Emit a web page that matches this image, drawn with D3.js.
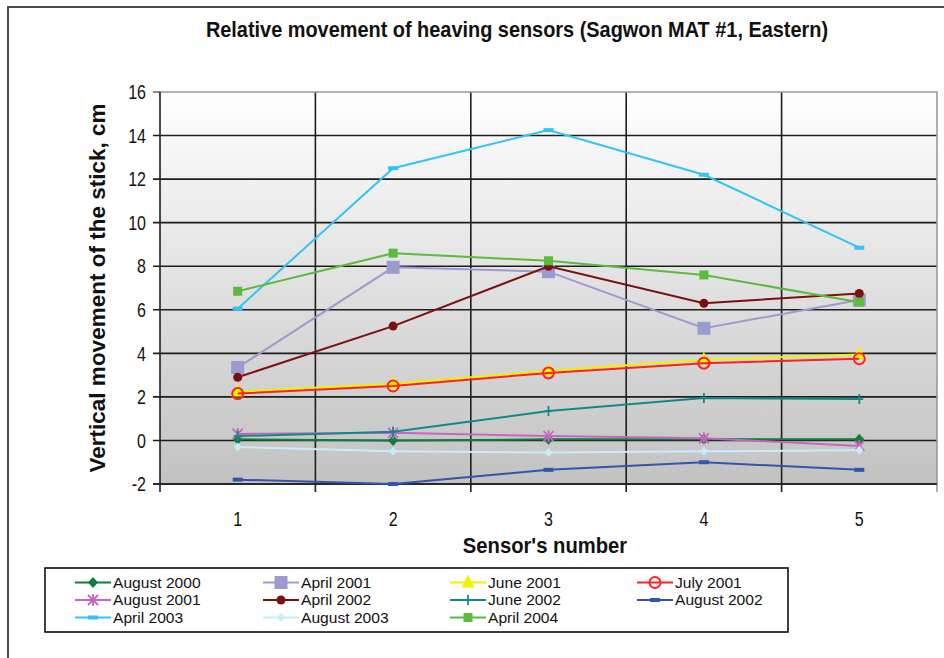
<!DOCTYPE html>
<html><head><meta charset="utf-8">
<script src="https://cdn.jsdelivr.net/npm/d3@7"></script>
<style>html,body{margin:0;padding:0;background:#fff;} svg{display:block;font-family:"Liberation Sans",Arial,sans-serif;}</style>
</head><body>
<svg id="chart" width="944" height="658"></svg>
<script>
const categories = [1, 2, 3, 4, 5];
const yTicks = [-2, 0, 2, 4, 6, 8, 10, 12, 14, 16];
const seriesNames = ["August 2000", "April 2001", "June 2001", "July 2001", "August 2001", "April 2002", "June 2002", "August 2002", "April 2003", "August 2003", "April 2004"];
const aug2000 = [0.05, 0.0, 0.05, 0.05, 0.05];
const apr2001 = [3.35, 7.95, 7.75, 5.15, 6.45];
const jun2001 = [2.25, 2.6, 3.2, 3.7, 3.95];
const jul2001 = [2.15, 2.5, 3.1, 3.55, 3.75];
const aug2001 = [0.3, 0.35, 0.2, 0.1, -0.25];
const apr2002 = [2.9, 5.25, 8.0, 6.3, 6.75];
const jun2002 = [0.2, 0.4, 1.35, 1.95, 1.9];
const aug2002 = [-1.8, -2.0, -1.35, -1.0, -1.35];
const apr2003 = [6.05, 12.5, 14.25, 12.2, 8.85];
const aug2003 = [-0.3, -0.5, -0.55, -0.5, -0.45];
const apr2004 = [6.85, 8.6, 8.25, 7.6, 6.35];
const seriesValues = [aug2000, apr2001, jun2001, jul2001, aug2001, apr2002, jun2002, aug2002, apr2003, aug2003, apr2004];
const colors = ["#0e7d3e", "#9b9bd0", "#f2f200", "#ff2020", "#c865c0", "#7a1010", "#108a88", "#3355aa", "#33c4f4", "#c8ecfa", "#5cbb3c"];
const markers = ["diamond", "bigsquare", "triangle", "ocircle", "asterisk", "circle", "plus", "dash", "dash", "diamondS", "square"];

const svg = d3.select("#chart");
const L = 160, R = 937, T = 92, B = 484;
const SX = 0.8;

function txt(parent, x, y, str, size, opts = {}) {
  const t = parent.append("text")
    .attr("transform", `translate(${x},${y})${opts.rotate ? " rotate(" + opts.rotate + ")" : ""} scale(${opts.sx ?? SX},1)`)
    .attr("text-anchor", opts.anchor || "middle")
    .attr("font-size", size)
    .attr("font-weight", opts.bold ? "bold" : "normal")
    .attr("fill", "#111")
    .text(str);
  if (opts.dy) t.attr("dy", opts.dy);
  return t;
}

// outer frame
svg.append("rect").attr("x", 8).attr("y", 7).attr("width", 1000).attr("height", 1000)
  .attr("fill", "#fff").attr("stroke", "#4a4a4a").attr("stroke-width", 2);

// gradient
const defs = svg.append("defs");
const grad = defs.append("linearGradient").attr("id", "bg").attr("x1", 0).attr("y1", 0).attr("x2", 0).attr("y2", 1);
grad.append("stop").attr("offset", 0).attr("stop-color", "#ffffff");
grad.append("stop").attr("offset", 1).attr("stop-color", "#c2c2c2");

const x = d3.scaleBand().domain(categories).range([L, R]).paddingInner(0).paddingOuter(0);
const y = d3.scaleLinear().domain([-2, 16]).range([B, T]);

svg.append("rect").attr("x", L).attr("y", T).attr("width", R - L).attr("height", B - T).attr("fill", "url(#bg)");

// horizontal gridlines
svg.append("g").selectAll("line").data(yTicks.filter(d => d < 16)).join("line")
  .attr("x1", L - 7).attr("x2", R).attr("y1", d => y(d)).attr("y2", d => y(d))
  .attr("stroke", "#1e1e1e").attr("stroke-width", 1.6);
// vertical gridlines at band boundaries
const bounds = categories.map(c => x(c)).concat([R]);
svg.append("g").selectAll("line").data(bounds.slice(1, -1)).join("line")
  .attr("x1", d => d).attr("x2", d => d).attr("y1", T).attr("y2", B + 8)
  .attr("stroke", "#1e1e1e").attr("stroke-width", 1.6);
// plot border top/right (gray)
svg.append("path").attr("d", `M${L},${T}H${R}V${B + 8}`).attr("fill", "none").attr("stroke", "#9a9a9a").attr("stroke-width", 1.6);
svg.append("line").attr("x1", L - 7).attr("x2", L).attr("y1", T).attr("y2", T).attr("stroke", "#555").attr("stroke-width", 1.4);
// axes
svg.append("line").attr("x1", L).attr("x2", L).attr("y1", T).attr("y2", B + 8).attr("stroke", "#1e1e1e").attr("stroke-width", 1.6);
svg.append("line").attr("x1", L - 7).attr("x2", R).attr("y1", B).attr("y2", B).attr("stroke", "#1e1e1e").attr("stroke-width", 1.6);

// y tick labels
const gy = svg.append("g");
yTicks.forEach(d => txt(gy, 146, y(d), String(d), 20, { anchor: "end", dy: "0.36em" }));
// x tick labels
const gx = svg.append("g");
categories.forEach(c => txt(gx, x(c) + x.bandwidth() / 2, 526, String(c), 20));

// titles
txt(svg, 517, 36.5, "Relative movement of heaving sensors (Sagwon MAT #1, Eastern)", 22, { bold: true, sx: 0.905 });
txt(svg, 545, 553, "Sensor's number", 22, { bold: true, sx: 0.92 });
txt(svg, 105, 288, "Vertical movement of the stick, cm", 22.5, { bold: true, rotate: -90, sx: 1 });

// marker drawing
function drawMarker(g, type, cx, cy, color) {
  const m = g.append("g").attr("transform", `translate(${cx},${cy})`);
  switch (type) {
    case "diamond":
      m.append("path").attr("d", "M0,-5.5L5,0L0,5.5L-5,0Z").attr("fill", color); break;
    case "diamondS":
      m.append("path").attr("d", "M0,-4.5L4,0L0,4.5L-4,0Z").attr("fill", color); break;
    case "bigsquare":
      m.append("rect").attr("x", -6.5).attr("y", -6.5).attr("width", 13).attr("height", 13).attr("fill", color); break;
    case "square":
      m.append("rect").attr("x", -4.5).attr("y", -4.5).attr("width", 9).attr("height", 9).attr("fill", color); break;
    case "triangle":
      m.append("path").attr("d", "M0,-8L6.5,5L-6.5,5Z").attr("fill", color); break;
    case "ocircle":
      m.append("circle").attr("r", 5.5).attr("fill", "none").attr("stroke", color).attr("stroke-width", 2); break;
    case "circle":
      m.append("circle").attr("r", 4.5).attr("fill", color); break;
    case "asterisk":
      m.append("path").attr("d", "M-5,-5L5,5M-5,5L5,-5M0,-6V6").attr("stroke", color).attr("stroke-width", 1.8); break;
    case "plus":
      m.append("path").attr("d", "M-4,0H4M0,-5V5").attr("stroke", color).attr("stroke-width", 1.8); break;
    case "dash":
      m.append("rect").attr("x", -5).attr("y", -2).attr("width", 10).attr("height", 4).attr("fill", color); break;
  }
}

// series
const line = d3.line().x((d, i) => x(categories[i]) + x.bandwidth() / 2).y(d => y(d));
const gs = svg.append("g");
seriesValues.forEach((vals, si) => {
  const g = gs.append("g");
  g.append("path").attr("d", line(vals)).attr("fill", "none").attr("stroke", colors[si]).attr("stroke-width", 2);
  vals.forEach((v, i) => drawMarker(g, markers[si], x(categories[i]) + x.bandwidth() / 2, y(v), colors[si]));
});

// legend
const lg = svg.append("g");
lg.append("rect").attr("x", 45).attr("y", 568).attr("width", 743).attr("height", 64)
  .attr("fill", "#fff").attr("stroke", "#111").attr("stroke-width", 1.6);
const colX = [75, 263, 450, 637];
const rowY = [582.5, 600, 617.5];
seriesNames.forEach((name, i) => {
  const cx = colX[i % 4], cy = rowY[Math.floor(i / 4)];
  lg.append("line").attr("x1", cx).attr("x2", cx + 36).attr("y1", cy).attr("y2", cy).attr("stroke", colors[i]).attr("stroke-width", 2);
  drawMarker(lg, markers[i], cx + 18, cy, colors[i]);
  txt(lg, cx + 38, cy, name, 15, { anchor: "start", dy: "0.36em", sx: 1.04 });
});
</script>
</body></html>
